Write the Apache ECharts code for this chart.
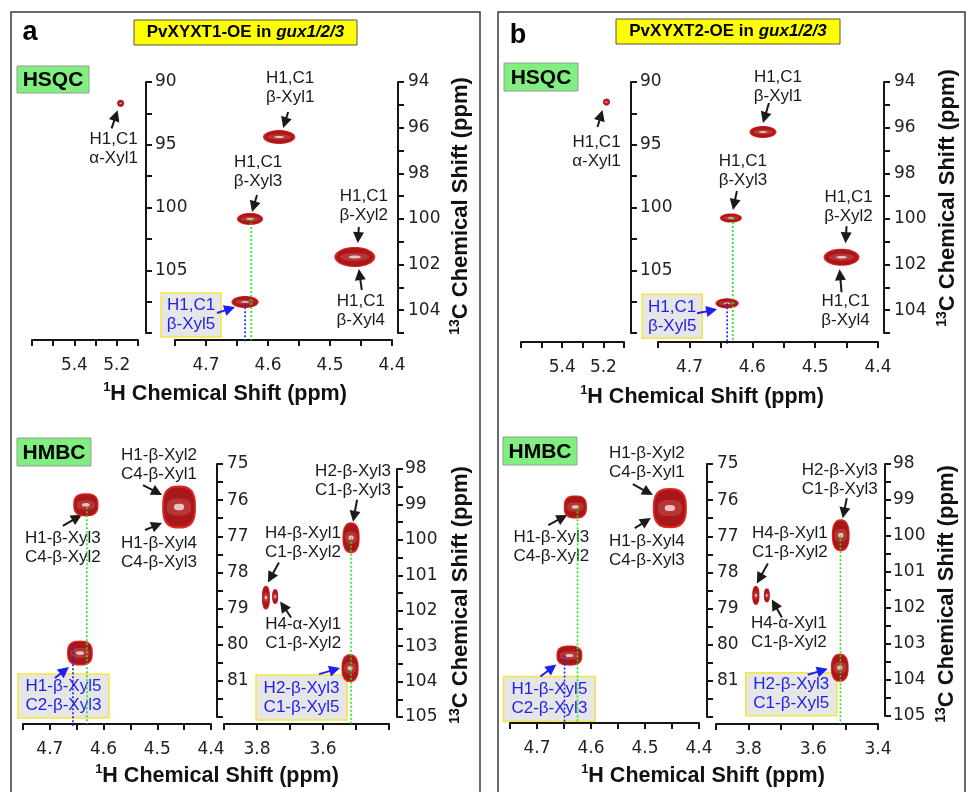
<!DOCTYPE html>
<html><head><meta charset="utf-8">
<script src="https://cdn.jsdelivr.net/npm/echarts@6/dist/echarts.min.js"></script>
<style>html,body{margin:0;padding:0;background:#fff}#c{width:968px;height:792px}</style>
</head><body><div id="c"></div>
<script>
// ================= DATA =================
const panelTags = ['a', 'b'];
const panelTitles = ['PvXYXT1-OE in ', 'PvXYXT2-OE in '];
const panelTitleItalic = 'gux1/2/3';
const xTitleSup = '1', xTitleMain = 'H Chemical Shift (ppm)';
const yTitleSup = '13', yTitleMain = 'C Chemical Shift (ppm)';
const expNames = ['HSQC', 'HMBC'];

// tick labels
const hsqcLeftXLabels = ['5.4', '5.2'];
const hsqcRightXLabels = ['4.7', '4.6', '4.5', '4.4'];
const hsqcLeftYLabels = ['90', '95', '100', '105'];
const hsqcRightYLabels = ['94', '96', '98', '100', '102', '104'];
const hmbcLeftXLabels = ['4.7', '4.6', '4.5', '4.4'];
const hmbcRightXLabelsA = ['3.8', '3.6'];
const hmbcRightXLabelsB = ['3.8', '3.6', '3.4'];
const hmbcLeftYLabels = ['75', '76', '77', '78', '79', '80', '81'];
const hmbcRightYLabels = ['98', '99', '100', '101', '102', '103', '104', '105'];

// peaks: [1H ppm, 13C ppm, 1H extent ppm, 13C extent ppm]
const hsqcAlphaA = [[5.182, 91.7, 0.033, 0.56]];
const hsqcBetaA = [[4.582, 96.41, 0.052, 0.61], [4.629, 100.0, 0.042, 0.53], [4.460, 101.67, 0.066, 0.88], [4.637, 103.64, 0.044, 0.53]];
const hmbcC4A = [[4.633, 76.13, 0.047, 0.64], [4.4595, 76.19, 0.063, 1.19], [4.644, 80.23, 0.048, 0.69]];
const hmbcC1A = [[3.515, 99.94, 0.052, 0.87], [3.518, 103.62, 0.052, 0.79], [3.773, 101.63, 0.024, 0.67], [3.745, 101.6, 0.018, 0.42]];

const hsqcAlphaB = [[5.185, 91.6, 0.034, 0.56]];
const hsqcBetaB = [[4.583, 96.19, 0.043, 0.53], [4.634, 99.96, 0.035, 0.40], [4.458, 101.68, 0.057, 0.75], [4.640, 103.70, 0.037, 0.44]];
const hmbcC4B = [[4.629, 76.19, 0.043, 0.64], [4.454, 76.22, 0.063, 1.11], [4.640, 80.30, 0.048, 0.56]];
const hmbcC1B = [[3.515, 99.98, 0.055, 0.89], [3.518, 103.66, 0.055, 0.78], [3.777, 101.65, 0.022, 0.53], [3.743, 101.65, 0.018, 0.39]];

// dotted guide lines: [1H ppm, 13C start ppm, kind (0 green, 1 blue)]
const hsqcGuidesA = [[4.627, 100.0, 0], [4.637, 103.7, 1]];
const hmbcC4GuidesA = [[4.631, 76.2, 0], [4.657, 80.1, 1]];
const hmbcC1GuidesA = [[3.515, 99.94, 0]];
const hsqcGuidesB = [[4.631, 99.96, 0], [4.640, 103.7, 1]];
const hmbcC4GuidesB = [[4.625, 76.2, 0], [4.649, 80.3, 1]];
const hmbcC1GuidesB = [[3.516, 99.98, 0]];

// annotation texts
const hsqcLabels = ['H1,C1\n\u03B1-Xyl1', 'H1,C1\n\u03B2-Xyl1', 'H1,C1\n\u03B2-Xyl3', 'H1,C1\n\u03B2-Xyl2', 'H1,C1\n\u03B2-Xyl4', 'H1,C1\n\u03B2-Xyl5'];
const hmbcLabels = ['H1-\u03B2-Xyl2\nC4-\u03B2-Xyl1', 'H1-\u03B2-Xyl4\nC4-\u03B2-Xyl3', 'H1-\u03B2-Xyl3\nC4-\u03B2-Xyl2', 'H1-\u03B2-Xyl5\nC2-\u03B2-Xyl3',
  'H2-\u03B2-Xyl3\nC1-\u03B2-Xyl3', 'H4-\u03B2-Xyl1\nC1-\u03B2-Xyl2', 'H4-\u03B1-Xyl1\nC1-\u03B2-Xyl2', 'H2-\u03B2-Xyl3\nC1-\u03B2-Xyl5'];

// ================= LAYOUT / STYLE =================
const panels = [
  { peaks: [hsqcAlphaA, hsqcBetaA, hmbcC4A, hmbcC1A], guides: [hsqcGuidesA, hmbcC4GuidesA, hmbcC1GuidesA], hmbcRX: hmbcRightXLabelsA,
    frame: [11, 12, 469], tag: [30, 33], title: [134, 20, 223, 25], boxes: [[17, 66, 72, 27], [17, 438, 74, 28]],
    grids: [[32, 82, 106, 251], [175, 82, 217, 251], [23, 464, 188, 253], [224, 469, 165, 248]],
    xOff: [7, 7, 7, 7], yOff: [29, 6, 6, 8],
    xt: [[225, 394], [217, 776]], yt: [[461, 206], [461, 595]],
    anno: [
      {s: 0, i: 0, t: 0, d: [-7, 45], a: [-9, 25, -3, 7]},
      {s: 1, i: 0, t: 1, d: [11, -49], a: [9, -25, 4, -9]},
      {s: 1, i: 1, t: 2, d: [8, -47], a: [7, -24, 2, -7]},
      {s: 1, i: 2, t: 3, d: [9, -51], a: [4, -30, 3, -14]},
      {s: 1, i: 2, t: 4, d: [6, 54], a: [7, 33, 4, 12]},
      {s: 1, i: 3, t: 5, d: [-54, 13], a: [-28, 11, -10, 5], box: [60, 44]},
      {s: 2, i: 1, t: 0, d: [-20, -42.5], a: [-36, -22, -17, -12]},
      {s: 2, i: 1, t: 1, d: [-20, 45.5], a: [-34, 23, -17, 16]},
      {s: 2, i: 0, t: 2, d: [-23, 43], a: [-23, 21, -4, 10]},
      {s: 2, i: 2, t: 3, d: [-16.5, 43], a: [-25, 25, -11, 14], box: [91, 44]},
      {s: 3, i: 0, t: 4, d: [2, -57], a: [6, -38, 2, -16]},
      {s: 3, i: 2, t: 5, d: [37, -55], a: [13, -35, 2, -15]},
      {s: 3, i: 3, t: 6, d: [28, 37], a: [16, 21, 5, 5]},
      {s: 3, i: 1, t: 7, d: [-48.5, 29.5], a: [-31, 6, -10, 0], box: [91, 45]}
    ]},
  { peaks: [hsqcAlphaB, hsqcBetaB, hmbcC4B, hmbcC1B], guides: [hsqcGuidesB, hmbcC4GuidesB, hmbcC1GuidesB], hmbcRX: hmbcRightXLabelsB,
    frame: [498, 12, 467], tag: [518, 36], title: [616, 19, 224, 25], boxes: [[504, 63, 74, 28], [503, 437, 74, 28]],
    grids: [[521, 82, 103, 251], [658, 82, 220, 251], [510, 464, 189, 253], [716, 464, 162, 252]],
    xOff: [9, 9, 6, 8], yOff: [27, 6, 8, 7],
    xt: [[702, 397], [703, 776]], yt: [[948, 198], [947, 594]],
    anno: [
      {s: 0, i: 0, t: 0, d: [-10, 49.5], a: [-9, 25, -4, 8]},
      {s: 1, i: 0, t: 1, d: [15, -45.5], a: [6, -29, 0, -9]},
      {s: 1, i: 1, t: 2, d: [12, -47.5], a: [6, -27, 2, -8]},
      {s: 1, i: 2, t: 3, d: [7, -50.5], a: [5, -31, 4, -14]},
      {s: 1, i: 2, t: 4, d: [4, 54], a: [0, 35, -2, 12]},
      {s: 1, i: 3, t: 5, d: [-55, 13], a: [-30, 10, -10, 6], box: [60, 44]},
      {s: 2, i: 1, t: 0, d: [-23, -45.5], a: [-37, -24, -17, -13]},
      {s: 2, i: 1, t: 1, d: [-23, 43], a: [-35, 20, -19, 10]},
      {s: 2, i: 0, t: 2, d: [-24, 40], a: [-27, 18, -8, 8]},
      {s: 2, i: 2, t: 3, d: [-20, 43.5], a: [-29, 21, -13, 9], box: [92, 45]},
      {s: 3, i: 0, t: 4, d: [-1, -55], a: [6, -37, 2, -17]},
      {s: 3, i: 2, t: 5, d: [34, -53], a: [12, -32, 1, -12]},
      {s: 3, i: 3, t: 6, d: [22, 37], a: [15, 22, 5, 4]},
      {s: 3, i: 1, t: 7, d: [-48.5, 26.5], a: [-32, 7, -12, 1], box: [91, 43]}
    ]}
];

const AX = '#151515';
const TXT = '#1a1a1a';
const BLUE = '#1f1fef';
const GREEN = '#22e022';
const SANS = '"Liberation Sans", Arial, sans-serif';
const TICKF = '"DejaVu Sans", Verdana, sans-serif';

function fmt(labels) {
  return function (v) {
    for (const L of labels) if (Math.abs(v - parseFloat(L)) < 1e-6) return L;
    return '';
  };
}
function xAx(gi, min, max, interval, labels, offset) {
  return { type: 'value', gridIndex: gi, min, max, interval, inverse: true, position: 'bottom', offset,
    axisLine: { show: true, onZero: false, lineStyle: { color: AX, width: 2 } },
    axisTick: { show: true, length: 6, lineStyle: { color: AX, width: 2 } },
    axisLabel: { show: true, margin: 17, color: '#222', fontSize: 17, fontFamily: TICKF, formatter: fmt(labels) },
    splitLine: { show: false } };
}
function yAx(gi, min, max, interval, labels, pos, offset, inside, margin) {
  return { type: 'value', gridIndex: gi, min, max, interval, inverse: true, position: pos, offset,
    axisLine: { show: true, onZero: false, lineStyle: { color: AX, width: 2 } },
    axisTick: { show: true, inside, length: 6, lineStyle: { color: AX, width: 2 } },
    axisLabel: { show: true, inside, margin, color: '#222', fontSize: 17, fontFamily: TICKF, formatter: fmt(labels) },
    splitLine: { show: false } };
}
function hiddenY(gi, min, max) {
  return { type: 'value', gridIndex: gi, min, max, inverse: true, show: false, splitLine: { show: false } };
}

function blob(cx, cy, rx, ry, n) {
  const pts = [];
  for (let k = 0; k < 48; k++) {
    const t = k / 48 * Math.PI * 2, c = Math.cos(t), s = Math.sin(t);
    pts.push([cx + rx * Math.sign(c) * Math.pow(Math.abs(c), 2 / n), cy + ry * Math.sign(s) * Math.pow(Math.abs(s), 2 / n)]);
  }
  return pts;
}
function peakRender(n) {
  return function (params, api) {
    const x = api.value(0), y = api.value(1);
    const c = api.coord([x, y]);
    const s = api.size([api.value(2), api.value(3)], [x, y]);
    const rx = s[0] / 2, ry = s[1] / 2;
    const layers = [[1, 1, '#e02424'], [0.9, 0.9, '#a81818'], [0.72, 0.4, '#b73535'], [0.3, 0.15, '#e6c4c4']];
    return { type: 'group', children: layers.map(L => ({ type: 'polygon',
      shape: { points: blob(c[0], c[1], rx * L[0], ry * L[1], n) }, style: { fill: L[2] } })) };
  };
}
function guideRender(offset) {
  return function (params, api) {
    const p = api.coord([api.value(0), api.value(1)]);
    const cs = params.coordSys;
    return { type: 'line', shape: { x1: p[0], y1: p[1], x2: p[0], y2: cs.y + cs.height + offset + (api.value(2) ? 2 : 0) },
      style: { stroke: api.value(2) ? BLUE : GREEN, lineWidth: 1.6, lineDash: [2, 2] } };
  };
}

const grid = [], xAxis = [], yAxis = [], series = [];
panels.forEach((P, p) => {
  P.grids.forEach(g => grid.push({ left: g[0], top: g[1], width: g[2], height: g[3], containLabel: false }));
  const gi = p * 4;
  xAxis.push(xAx(gi, 5.1, 5.6, 0.1, hsqcLeftXLabels, P.xOff[0]));
  xAxis.push(xAx(gi + 1, 4.4, 4.75, 0.05, hsqcRightXLabels, P.xOff[1]));
  xAxis.push(xAx(gi + 2, 4.4, 4.75, 0.05, hmbcLeftXLabels, P.xOff[2]));
  xAxis.push(xAx(gi + 3, 3.4, 3.9, 0.1, P.hmbcRX, P.xOff[3]));
  const yi = p * 5;
  yAxis.push(hiddenY(gi, 90, 110));
  yAxis.push(yAx(gi + 1, 90, 110, 2.5, hsqcLeftYLabels, 'left', P.yOff[0], true, 9));
  yAxis.push(yAx(gi + 1, 94, 105, 1, hsqcRightYLabels, 'right', P.yOff[1], false, 10));
  yAxis.push(yAx(gi + 2, 75, 82, 0.5, hmbcLeftYLabels, 'right', P.yOff[2], false, 10));
  yAxis.push(yAx(gi + 3, 98, 105, 0.5, hmbcRightYLabels, 'right', P.yOff[3], false, 8));
  const yMap = [yi, yi + 2, yi + 3, yi + 4];
  const shapeN = [2, 2, 2.7, 2.4];
  P.peaks.forEach((d, k) => series.push({ id: 'pk' + p + k, type: 'custom', xAxisIndex: gi + k, yAxisIndex: yMap[k],
    renderItem: peakRender(shapeN[k]), data: d, encode: { x: 0, y: 1 }, clip: false, silent: true, z: 3 }));
  P.guides.forEach((d, k) => series.push({ id: 'gd' + p + k, type: 'custom', xAxisIndex: gi + k + 1, yAxisIndex: yMap[k + 1],
    renderItem: guideRender(P.xOff[k + 1]), data: d, encode: { x: 0, y: 1 }, clip: false, silent: true, z: 4 }));
});

const chart = echarts.init(document.getElementById('c'), null, { renderer: 'canvas' });
chart.setOption({ animation: false, backgroundColor: '#fff', grid, xAxis, yAxis, series });

// ================= annotations =================
const els = [];
function txt(x, y, text, font, fill, extra) {
  return Object.assign({ type: 'text', x, y, z: 1, style: { text, font, fill, align: 'center', verticalAlign: 'middle',
    textAlign: 'center', textVerticalAlign: 'middle', lineHeight: 19 } }, extra || {});
}
function supTitle(x, y, sup, main, size, rot) {
  const el = { type: 'text', x, y, z: 1, style: { text: '{s|' + sup + '}{m|' + main + '}', align: 'center', verticalAlign: 'middle',
    textAlign: 'center', textVerticalAlign: 'middle',
    rich: { s: { font: 'bold ' + Math.round(size * 0.62) + 'px ' + SANS, fill: '#111', verticalAlign: 'top', lineHeight: Math.round(size * 0.7) },
            m: { font: 'bold ' + size + 'px ' + SANS, fill: '#111', lineHeight: size + 4 } } } };
  if (rot) el.rotation = Math.PI / 2;
  return el;
}
function arrow(x1, y1, x2, y2, color) {
  const ang = Math.atan2(y2 - y1, x2 - x1), L = 11, W = 5.5;
  const bx = x2 - L * Math.cos(ang), by = y2 - L * Math.sin(ang);
  els.push({ type: 'line', z: 1, shape: { x1, y1, x2: bx + Math.cos(ang), y2: by + Math.sin(ang) }, style: { stroke: color, lineWidth: 2 } });
  els.push({ type: 'polygon', z: 1, shape: { points: [[x2, y2], [bx + W * Math.sin(ang), by - W * Math.cos(ang)], [bx - W * Math.sin(ang), by + W * Math.cos(ang)]] }, style: { fill: color } });
}
panels.forEach((P, p) => {
  const f = P.frame;
  els.push({ type: 'rect', z: 0, shape: { x: f[0], y: f[1], width: f[2], height: 820 }, style: { fill: null, stroke: '#3a3a3a', lineWidth: 1.5 } });
  els.push(txt(P.tag[0], P.tag[1], panelTags[p], 'bold 27px ' + SANS, '#000'));
  const t = P.title;
  els.push({ type: 'rect', z: 0, shape: { x: t[0], y: t[1], width: t[2], height: t[3] }, style: { fill: '#ffff00', stroke: '#555', lineWidth: 1 } });
  els.push({ type: 'text', z: 1, x: t[0] + t[2] / 2, y: t[1] + t[3] / 2, style: { text: '{b|' + panelTitles[p] + '}{i|' + panelTitleItalic + '}',
    align: 'center', verticalAlign: 'middle', textAlign: 'center', textVerticalAlign: 'middle',
    rich: { b: { font: 'bold 17px ' + SANS, fill: '#000' }, i: { font: 'italic bold 17px ' + SANS, fill: '#000' } } } });
  P.boxes.forEach((b, k) => {
    els.push({ type: 'rect', z: 0, shape: { x: b[0], y: b[1], width: b[2], height: b[3] }, style: { fill: '#80ef80', stroke: '#9a9a9a', lineWidth: 1 } });
    els.push(txt(b[0] + b[2] / 2, b[1] + b[3] / 2 + 1, expNames[k], 'bold 21px ' + SANS, '#000'));
  });
  P.xt.forEach(c => els.push(supTitle(c[0], c[1], xTitleSup, xTitleMain, 21.5, false)));
  P.yt.forEach(c => els.push(supTitle(c[0], c[1], yTitleSup, yTitleMain, 22, true)));
  P.anno.forEach(A => {
    const d = P.peaks[A.s][A.i];
    const px = chart.convertToPixel({ seriesId: 'pk' + p + A.s }, [d[0], d[1]]);
    const cx = px[0] + A.d[0], cy = px[1] + A.d[1];
    const text = (A.s < 2 ? hsqcLabels : hmbcLabels)[A.t];
    const col = A.box ? BLUE : TXT;
    if (A.box) els.push({ type: 'rect', z: 0, shape: { x: cx - A.box[0] / 2, y: cy - A.box[1] / 2, width: A.box[0], height: A.box[1] },
      style: { fill: '#e6e6e6', stroke: '#f3e640', lineWidth: 1.5 } });
    els.push(txt(cx, cy, text, '17px ' + SANS, col));
    arrow(px[0] + A.a[0], px[1] + A.a[1], px[0] + A.a[2], px[1] + A.a[3], col);
  });
});
chart.setOption({ graphic: { elements: els } });
</script></body></html>
